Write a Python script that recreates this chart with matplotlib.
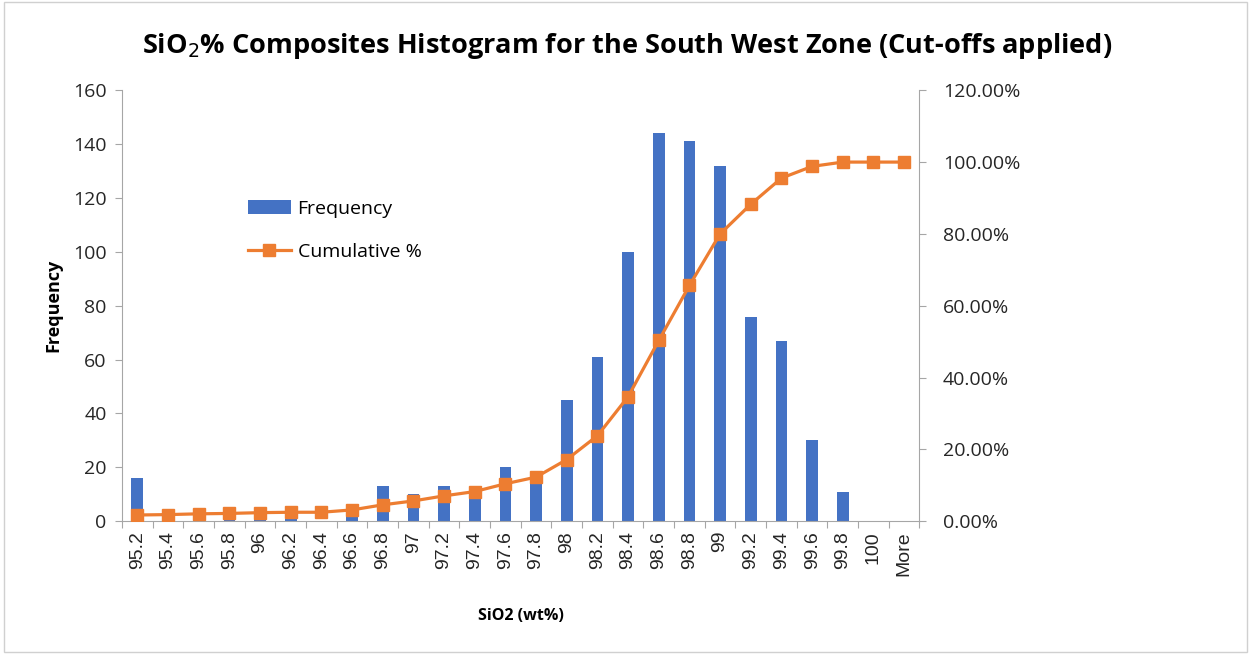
import numpy as np
from matplotlib import pyplot as plt
from matplotlib.ticker import PercentFormatter

plt.rcParams['font.family'] = ['Open Sans', 'DejaVu Sans']

bins = ['95.2', '95.4', '95.6', '95.8', '96', '96.2', '96.4', '96.6', '96.8', '97',
        '97.2', '97.4', '97.6', '97.8', '98', '98.2', '98.4', '98.6', '98.8', '99',
        '99.2', '99.4', '99.6', '99.8', '100', 'More']
frequency = [16, 1, 2, 1, 2, 1, 0, 6, 13, 10,
             13, 11, 20, 17, 45, 61, 100, 144, 141, 132,
             76, 67, 30, 11, 0, 0]

cumulative = np.cumsum(frequency) / sum(frequency) * 100

blue = '#4472C4'
orange = '#ED7D31'
axis_grey = '#A6A6A6'
text_col = '#262626'

fig = plt.figure(figsize=(12.51, 6.54), dpi=100)
ax = fig.add_axes([0.0975, 0.203, 0.6375, 0.659])
x = np.arange(len(bins))

ax.bar(x, frequency, width=0.38, color=blue, label='Frequency', zorder=2)
ax.set_xlim(-0.5, len(bins) - 0.5)
ax.set_ylim(0, 160)
ax.set_yticks(range(0, 161, 20))
# ticks sit between categories, labels at the centres
ax.set_xticks(np.arange(len(bins) + 1) - 0.5)
ax.set_xticklabels([])
ax.set_xticks(x, minor=True)
ax.set_xticklabels(bins, minor=True, rotation=90, fontsize=14,
                   family=['Liberation Sans'], color=text_col)
ax.tick_params(axis='x', which='major', length=5, color=axis_grey)
ax.tick_params(axis='x', which='minor', length=0, pad=7)
ax.tick_params(axis='y', labelsize=14, labelcolor=text_col, length=5, color=axis_grey, pad=6)
ax.set_ylabel('Frequency', fontsize=13, fontweight='bold', labelpad=8)
ax.set_xlabel('SiO2 (wt%)', fontsize=11.5, fontweight='bold', labelpad=23)
for s in ['top', 'right']:
    ax.spines[s].set_visible(False)
for s in ['left', 'bottom']:
    ax.spines[s].set_color(axis_grey)

ax2 = ax.twinx()
ax2.plot(x, cumulative, color=orange, linewidth=2.3, marker='s', markersize=8,
         label='Cumulative %', zorder=3)
ax2.set_ylim(0, 120)
ax2.set_yticks(range(0, 121, 20))
ax2.yaxis.set_major_formatter(PercentFormatter(decimals=2))
ax2.tick_params(axis='y', labelsize=14, labelcolor=text_col, length=5, color=axis_grey, pad=12)
for s in ['top', 'left', 'bottom']:
    ax2.spines[s].set_visible(False)
ax2.spines['right'].set_color(axis_grey)

h1, l1 = ax.get_legend_handles_labels()
h2, l2 = ax2.get_legend_handles_labels()
ax.legend(h1 + h2, l1 + l2, loc='upper left', bbox_to_anchor=(0.158, 0.746),
          frameon=False, fontsize=14, handlelength=2.2, handletextpad=0.35,
          labelspacing=1.3, borderpad=0, borderaxespad=0)

fig.suptitle('SiO$_2$% Composites Histogram for the South West Zone (Cut-offs applied)',
             x=0.501, y=0.952, fontsize=19.5, fontweight='bold')

fig.patches.append(plt.Rectangle((0.003, 0.003), 0.994, 0.994, transform=fig.transFigure,
                                 fill=False, edgecolor='#D0D0D0', linewidth=1))

fig.savefig('out.png', dpi=100)
